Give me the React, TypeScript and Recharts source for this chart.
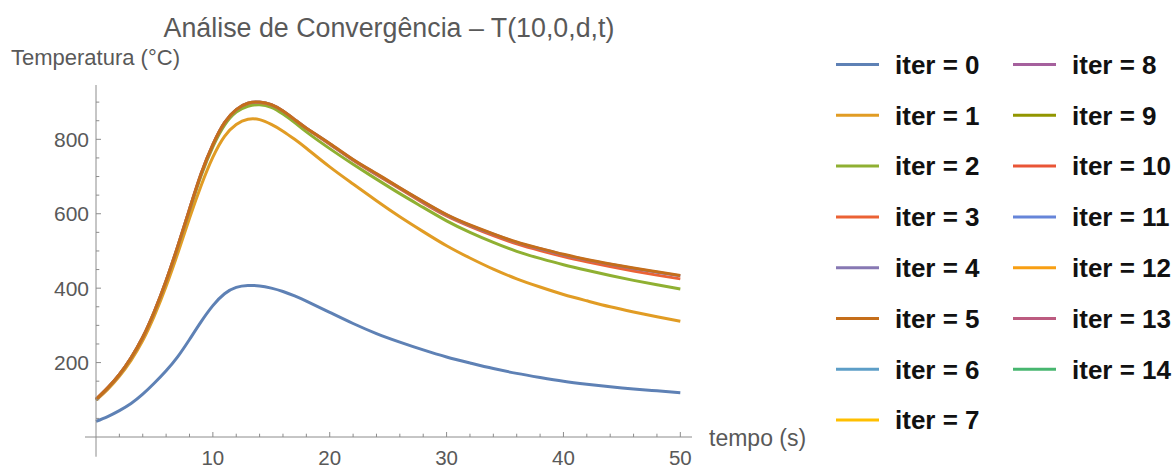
import { LineChart, Line, XAxis, YAxis, ReferenceLine } from "recharts";

// tempo (s)
const times = [
  0, 1, 2, 3, 4, 5, 6, 7, 8, 9, 10, 11, 12, 13, 14, 15, 16, 17, 18,
  20, 22, 24, 26, 28, 30, 32, 34, 36, 38, 40, 42, 44, 46, 48, 50,
];

// temperatura (°C) por iteração
const iter0 = [
  42, 55, 71, 90, 115, 145, 178, 216, 262, 310, 353, 385, 402, 407, 406, 400, 391, 379, 365,
  335, 305, 278, 255, 234, 215, 199, 184, 171, 160, 150, 142, 135, 129, 124, 119,
];
const iter1 = [
  99, 128, 163, 206, 259, 326, 405, 494, 588, 676, 752, 808, 840, 854, 853, 840, 822, 800, 776,
  726, 680, 635, 592, 552, 514, 481, 451, 425, 403, 383, 366, 350, 336, 323, 311,
];
const iter2 = [
  100, 131, 167, 212, 267, 336, 418, 510, 608, 703, 780, 838, 873, 889, 893, 886, 868, 845, 820,
  775, 733, 693, 654, 617, 581, 550, 523, 499, 480, 463, 448, 434, 421, 409, 398,
];
const iter3 = [
  101, 132, 168, 213, 268, 338, 420, 513, 612, 708, 786, 845, 880, 897, 899, 893, 876, 853, 830,
  787, 744, 705, 667, 629, 594, 566, 541, 519, 501, 485, 471, 458, 446, 435, 425,
];
const iter4 = [
  101, 132, 168, 213, 268, 338, 420, 513, 612, 708, 786, 845, 880, 897, 900, 893, 876, 853, 830,
  788, 745, 707, 669, 632, 597, 569, 545, 523, 506, 490, 476, 464, 453, 443, 433,
];
const iter5 = [
  101, 132, 168, 213, 268, 338, 420, 513, 612, 708, 786, 845, 880, 897, 900, 893, 876, 853, 830,
  789, 746, 708, 670, 633, 598, 570, 546, 524, 507, 491, 477, 465, 454, 444, 434,
];

const plotted = [iter0, iter1, iter2, iter3, iter4, iter5];

const legendNames = [
  "iter = 0", "iter = 1", "iter = 2", "iter = 3", "iter = 4", "iter = 5", "iter = 6", "iter = 7",
  "iter = 8", "iter = 9", "iter = 10", "iter = 11", "iter = 12", "iter = 13", "iter = 14",
];
const colors = [
  "#5E81B5", "#E19C24", "#8FB032", "#EB6235", "#8778B3", "#C56E1A", "#5D9EC7", "#FFBF00",
  "#A5609D", "#929600", "#E95536", "#6685D9", "#F89F13", "#BC5B80", "#47B66F",
];

const xTicks = [2, 4, 6, 8, 10, 12, 14, 16, 18, 20, 22, 24, 26, 28, 30, 32, 34, 36, 38, 40, 42, 44, 46, 48, 50];
const yTicks = [50, 100, 150, 200, 250, 300, 350, 400, 450, 500, 550, 600, 650, 700, 750, 800, 850, 900];

const data = times.map((t, i) => {
  const row: Record<string, number> = { t };
  plotted.forEach((s, k) => {
    row[`iter${k}`] = s[i];
  });
  return row;
});

const FONT = "'Liberation Sans', Arial, sans-serif";
const AXIS = "#8c8c8c";
const TEXT = "#595959";

function XTick(props: any) {
  const { x, y, payload } = props;
  const major = payload.value % 10 === 0;
  return (
    <g>
      <line x1={x} x2={x} y1={y} y2={y - (major ? 5 : 3.3)} stroke={AXIS} />
      {major && (
        <text x={x} y={y + 27.5} textAnchor="middle" fontSize={20.5} fill={TEXT} fontFamily={FONT}>
          {payload.value}
        </text>
      )}
    </g>
  );
}

function YTick(props: any) {
  const { x, y, payload } = props;
  const major = payload.value % 200 === 0;
  return (
    <g>
      <line x1={x} x2={x + (major ? 5 : 3.3)} y1={y} y2={y} stroke={AXIS} />
      {major && (
        <text x={x - 7} y={y + 7.5} textAnchor="end" fontSize={21} fill={TEXT} fontFamily={FONT}>
          {payload.value}
        </text>
      )}
    </g>
  );
}

export default function App() {
  return (
    <div style={{ position: "absolute", left: 0, top: 0, width: 1176, height: 467, background: "#fff" }}>
      <LineChart
        width={1176}
        height={467}
        data={data}
        margin={{ top: 85, right: 484, bottom: 0, left: 0 }}
      >
        <XAxis
          dataKey="t"
          type="number"
          domain={[0, 51]}
          ticks={xTicks}
          interval={0}
          height={30}
          tickSize={0}
          tickMargin={0}
          axisLine={{ stroke: AXIS }}
          tickLine={false}
          tick={<XTick />}
        />
        <YAxis
          type="number"
          domain={[0, 946]}
          ticks={yTicks}
          interval={0}
          width={96}
          tickSize={0}
          tickMargin={0}
          axisLine={{ stroke: AXIS }}
          tickLine={false}
          tick={<YTick />}
        />
        <ReferenceLine
          segment={[{ x: -0.94, y: 0 }, { x: 0, y: 0 }]}
          stroke={AXIS}
          ifOverflow="visible"
        />
        <ReferenceLine
          segment={[{ x: 0, y: 0 }, { x: 0, y: -53 }]}
          stroke={AXIS}
          ifOverflow="visible"
        />
        {plotted.map((_, k) => (
          <Line
            key={k}
            type="natural"
            dataKey={`iter${k}`}
            stroke={colors[k]}
            strokeWidth={3}
            dot={false}
            isAnimationActive={false}
          />
        ))}
        <text x={389} y={37} textAnchor="middle" fontSize={26.8} fill={TEXT} fontFamily={FONT}>
          Análise de Convergência – T(10,0,d,t)
        </text>
        <text x={11} y={65} fontSize={22} fill={TEXT} fontFamily={FONT}>
          Temperatura (°C)
        </text>
        <text x={709} y={446} fontSize={23} fill={TEXT} fontFamily={FONT}>
          tempo (s)
        </text>
        {legendNames.map((name, i) => {
          const col = i < 8 ? 0 : 1;
          const row = i < 8 ? i : i - 8;
          const lx = col === 0 ? 836 : 1013;
          const tx = col === 0 ? 895 : 1072;
          const cy = 64.5 + row * 50.8;
          return (
            <g key={name}>
              <line x1={lx} x2={lx + 43} y1={cy} y2={cy} stroke={colors[i]} strokeWidth={3} />
              <text x={tx} y={cy + 9.3} fontSize={26} fontWeight="bold" fill="#111" fontFamily={FONT}>
                {name}
              </text>
            </g>
          );
        })}
      </LineChart>
    </div>
  );
}
